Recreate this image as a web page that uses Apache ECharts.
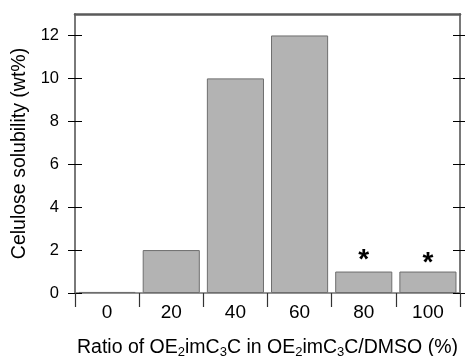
<!DOCTYPE html>
<html><head><meta charset="utf-8">
<script src="https://cdn.jsdelivr.net/npm/echarts@6/dist/echarts.min.js"></script>
<style>html,body{margin:0;padding:0;background:#fff}#c{width:465px;height:356px}</style>
</head><body><div id="c"></div>
<script>
var categories = ['0', '20', '40', '60', '80', '100'];
var solubility = [0.05, 2, 10, 12, 1, 1];
var marks = ['', '', '', '', '*', '*'];
var yTicks = [0, 2, 4, 6, 8, 10, 12];

var FONT = 'Liberation Sans';
var chart = echarts.init(document.getElementById('c'));
var axisCol = '#707070';
function yAx(pos, inside, labels) {
  return {
    type: 'value', position: pos, min: 0, max: 13,
    axisLine: { show: true, lineStyle: { color: axisCol, width: 1.5 } },
    axisTick: { show: true, inside: inside, length: 7, customValues: yTicks, lineStyle: { color: '#000', width: 1 } },
    axisLabel: labels ? { show: true, customValues: yTicks, fontFamily: FONT, fontSize: 16.5, color: '#000', margin: 16 } : { show: false },
    splitLine: { show: false },
    name: labels ? 'Celulose solubility (wt%)' : '',
    nameLocation: 'middle', nameGap: 44,
    nameTextStyle: { fontFamily: FONT, fontSize: 19.5, color: '#000' }
  };
}
var labelOffsets = [0, 0, 0, 0, -3, -6];
chart.setOption({
  animation: false,
  grid: { left: 75, right: 5, top: 14, bottom: 63, containLabel: false, outerBoundsMode: 'none' },
  xAxis: [{
    type: 'category', data: categories, position: 'bottom',
    axisLine: { show: true, onZero: false, lineStyle: { color: axisCol, width: 1.5 } },
    axisTick: { show: true, length: 14, lineStyle: { color: '#333', width: 1.2 } },
    axisLabel: { fontFamily: FONT, fontSize: 19, color: '#000', margin: 10 },
    name: '{n|Ratio of OE}{s|2}{n|imC}{s|3}{n|C in OE}{s|2}{n|imC}{s|3}{n|C/DMSO (%)}',
    nameLocation: 'middle', nameGap: 43,
    nameTextStyle: { rich: {
      n: { fontFamily: FONT, fontSize: 19.5, color: '#000' },
      s: { fontFamily: FONT, fontSize: 13, color: '#000', verticalAlign: 'bottom', padding: [10, 0, 0, 0] }
    } }
  }, {
    type: 'category', data: categories, position: 'top', gridIndex: 0,
    axisLine: { show: true, onZero: false, lineStyle: { color: '#5a5a5a', width: 2.5 } },
    axisTick: { show: false }, axisLabel: { show: false }
  }],
  yAxis: [yAx('left', false, true), yAx('left', true, false), yAx('right', false, false), yAx('right', true, false)],
  series: [{
    type: 'bar', xAxisIndex: 0, yAxisIndex: 0,
    barCategoryGap: '11%',
    data: solubility.map(function (v, i) {
      return { value: v, label: { distance: labelOffsets[i] } };
    }),
    itemStyle: { color: '#b3b3b3', borderColor: '#6e6e6e', borderWidth: 1 },
    label: {
      show: true, position: 'top',
      formatter: function (p) { return marks[p.dataIndex]; },
      fontFamily: FONT, fontSize: 28, fontWeight: 'bold', color: '#000'
    }
  }]
});
</script></body></html>
